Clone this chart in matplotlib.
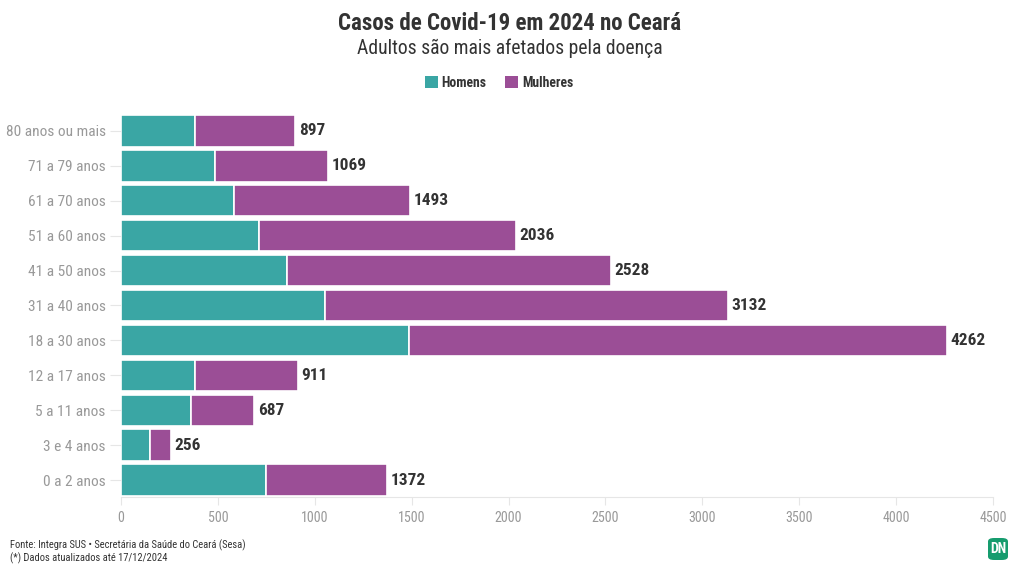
import matplotlib
matplotlib.use("Agg")
import matplotlib.pyplot as plt
from matplotlib import font_manager as fm
from matplotlib.patches import FancyBboxPatch, Patch

names = {f.name for f in fm.fontManager.ttflist}
if "Roboto Condensed" in names:
    FONT = "Roboto Condensed"
    S = 1.15
else:
    FONT = "Roboto"
    S = 1.0
plt.rcParams['font.family'] = [FONT, 'DejaVu Sans']

categories = ["80 anos ou mais", "71 a 79 anos", "61 a 70 anos", "51 a 60 anos",
              "41 a 50 anos", "31 a 40 anos", "18 a 30 anos", "12 a 17 anos",
              "5 a 11 anos", "3 e 4 anos", "0 a 2 anos"]
totals = [897, 1069, 1493, 2036, 2528, 3132, 4262, 911, 687, 256, 1372]
homens = [383, 487, 584, 714, 858, 1053, 1488, 380, 361, 150, 747]
mulheres = [t - h for t, h in zip(totals, homens)]
xticks = [0, 500, 1000, 1500, 2000, 2500, 3000, 3500, 4000, 4500]

TEAL = "#3aa6a4"
PURPLE = "#9b4e96"

fig = plt.figure(figsize=(10.2, 5.74), dpi=100)
ax = fig.add_axes([0.1186, 0.1333, 0.8549, 0.669])

y = list(range(len(categories)))
ax.barh(y, homens, height=0.9, color=TEAL, edgecolor="white", linewidth=1.2)
ax.barh(y, mulheres, left=homens, height=0.9, color=PURPLE, edgecolor="white", linewidth=1.2)
for yi, t in zip(y, totals):
    ax.text(t + 20, yi, f"{t}", va="center", ha="left", fontsize=10.8 * S,
            fontweight="bold", color="#333333")

ax.set_ylim(len(categories) - 0.5, -0.5)
ax.set_xlim(0, 4500)
ax.set_yticks(y)
ax.set_yticklabels(categories, fontsize=9.6 * S, color="#999999")
ax.set_xticks(xticks)
ax.set_xticklabels([str(v) for v in xticks], fontsize=8.8 * S, color="#999999")
for s in ["top", "right", "left"]:
    ax.spines[s].set_visible(False)
ax.spines["bottom"].set_color("#e6e6e6")
ax.tick_params(axis="y", length=8, color="#e6e6e6", pad=3)
ax.tick_params(axis="x", length=6, color="#e6e6e6", pad=4)

fig.text(0.5, 1 - 23 / 574, "Casos de Covid-19 em 2024 no Ceará", ha="center", va="center",
         fontsize=14.35 * S, fontweight="bold", color="#333333")
fig.text(0.5, 1 - 48 / 574, "Adultos são mais afetados pela doença", ha="center", va="center",
         fontsize=12.3 * S, color="#333333")

handles = [Patch(facecolor=TEAL, label="Homens"), Patch(facecolor=PURPLE, label="Mulheres")]
leg = fig.legend(handles=handles, loc="center", bbox_to_anchor=(0.489, 1 - 83 / 574), ncol=2,
                 frameon=False, handlelength=1.0, handleheight=1.0, handletextpad=0.25,
                 columnspacing=1.3, prop={"weight": "bold", "size": 8.6 * S})
for t in leg.get_texts():
    t.set_color("#333333")

fig.text(10 / 1020, 1 - 545 / 574, "Fonte: Integra SUS • Secretária da Saúde do Ceará (Sesa)",
         ha="left", va="center", fontsize=6.55 * S, color="#333333")
fig.text(10 / 1020, 1 - 558 / 574, "(*) Dados atualizados até 17/12/2024",
         ha="left", va="center", fontsize=6.55 * S, color="#333333")

# logo
lw, lh = 20 / 1020, 22 / 574
lx, ly = 988 / 1020, 1 - 560 / 574
logo = FancyBboxPatch((lx, ly), lw, lh, boxstyle="round,pad=0,rounding_size=0.006",
                      transform=fig.transFigure, facecolor="#169c6e", edgecolor="none")
fig.patches.append(logo)
fig.text(lx + lw / 2, ly + lh / 2, "DN", ha="center", va="center", fontsize=10,
         fontweight="bold", color="white")

fig.savefig("out.png", dpi=100)
